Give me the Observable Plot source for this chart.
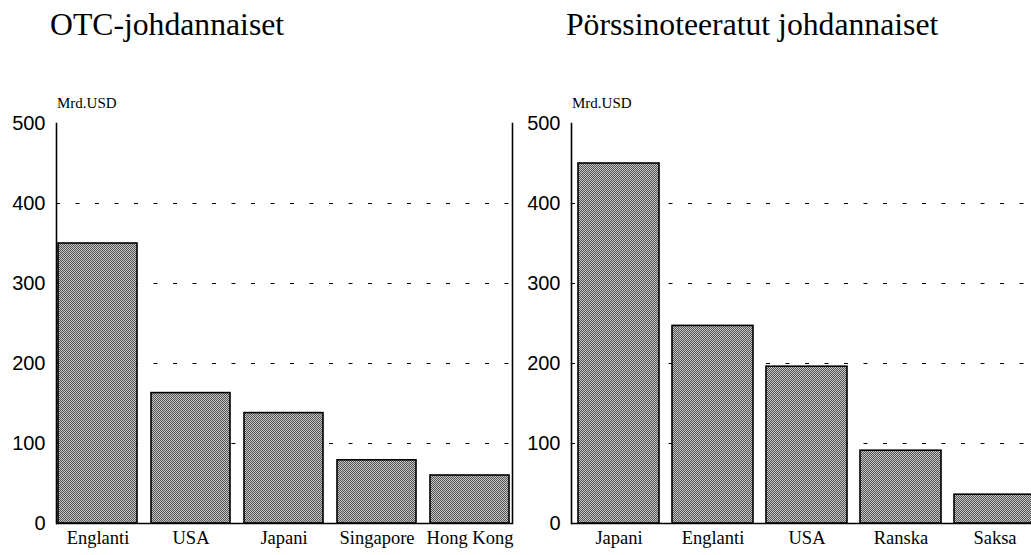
<!DOCTYPE html>
<html>
<head>
<meta charset="utf-8">
<script src="https://cdn.jsdelivr.net/npm/d3@7"></script>
<script src="https://cdn.jsdelivr.net/npm/@observablehq/plot@0.6"></script>
<style>
  html, body { margin: 0; padding: 0; background: #fff; width: 1031px; height: 555px; overflow: hidden; }
  #page { position: relative; width: 1031px; height: 555px; overflow: hidden; }
  .title { position: absolute; font-family: "Liberation Serif", "Times New Roman", serif; font-size: 31.7px; line-height: 32px; color: #000; white-space: nowrap; }
  .unit { position: absolute; font-family: "Liberation Serif", "Times New Roman", serif; font-size: 15px; line-height: 15px; color: #000; white-space: nowrap; }
  .panel { position: absolute; top: 90px; }
  .panel svg { overflow: visible; max-width: none !important; }
</style>
</head>
<body>
<svg width="0" height="0" style="position:absolute">
  <defs>
    <pattern id="dither" width="2" height="2" patternUnits="userSpaceOnUse">
      <rect x="0" y="0" width="2" height="2" fill="#c4c4c4"></rect>
      <rect x="0" y="0" width="1" height="1" fill="#555"></rect>
      <rect x="1" y="1" width="1" height="1" fill="#555"></rect>
    </pattern>
  </defs>
</svg>
<div id="page">
  <div class="title" style="left:50px; top:9px;">OTC-johdannaiset</div>
  <div class="title" style="left:566px; top:9px;">Pörssinoteeratut johdannaiset</div>
  <div class="unit" style="left:57px; top:96px;">Mrd.USD</div>
  <div class="unit" style="left:572px; top:96px;">Mrd.USD</div>
  <div class="panel" id="left" style="left:0px; width:520px;"></div>
  <div class="panel" id="right" style="left:515px; width:536px;"></div>
</div>
<script>
// Data
const otcCountries = ["Englanti", "USA", "Japani", "Singapore", "Hong Kong"];
const otcValues = [350, 163, 138, 79, 60];
const exchCountries = ["Japani", "Englanti", "USA", "Ranska", "Saksa"];
const exchValues = [450, 247, 196, 91, 36];
const yTicks = [0, 100, 200, 300, 400, 500];
const gridValues = [100, 200, 300, 400];

function panel(cats, vals, opt) {
  const data = cats.map((c, i) => ({country: c, value: vals[i]}));
  return Plot.plot({
    width: opt.width,
    height: 465,
    marginTop: 33,
    marginBottom: 32,
    marginLeft: 56,
    marginRight: opt.marginRight,
    style: {background: "transparent", overflow: "visible", color: "#000", maxWidth: "none"},
    x: {domain: cats, paddingInner: opt.paddingInner, paddingOuter: opt.paddingOuter, label: null},
    y: {domain: [0, 500], label: null},
    marks: [
      Plot.ruleY(gridValues, {stroke: "#000", strokeWidth: 1, strokeDasharray: "4,15.5"}),
      Plot.barY(data, {x: "country", y: "value", fill: "url(#dither)", stroke: "#000", strokeWidth: 1.6}),
      Plot.ruleY([0], {stroke: "#000", strokeWidth: 1.6}),
      Plot.frame({anchor: "left", stroke: "#000", strokeWidth: 1.6}),
      Plot.frame({anchor: "right", stroke: "#000", strokeWidth: 1.6}),
      Plot.axisY({ticks: yTicks, tickSize: 0, tickPadding: 11, fontSize: 20, fontFamily: "Liberation Sans", label: null}),
      Plot.axisX({tickSize: 0, tickPadding: 7, fontSize: 18.5, fontFamily: "Liberation Serif", label: null})
    ]
  });
}

document.getElementById("left").appendChild(
  panel(otcCountries, otcValues, {width: 520, marginRight: 8, paddingInner: 0.15, paddingOuter: 0.02})
);
document.getElementById("right").appendChild(
  panel(exchCountries, exchValues, {width: 536, marginRight: 9, paddingInner: 0.14, paddingOuter: 0.075})
);
</script>
</body>
</html>
